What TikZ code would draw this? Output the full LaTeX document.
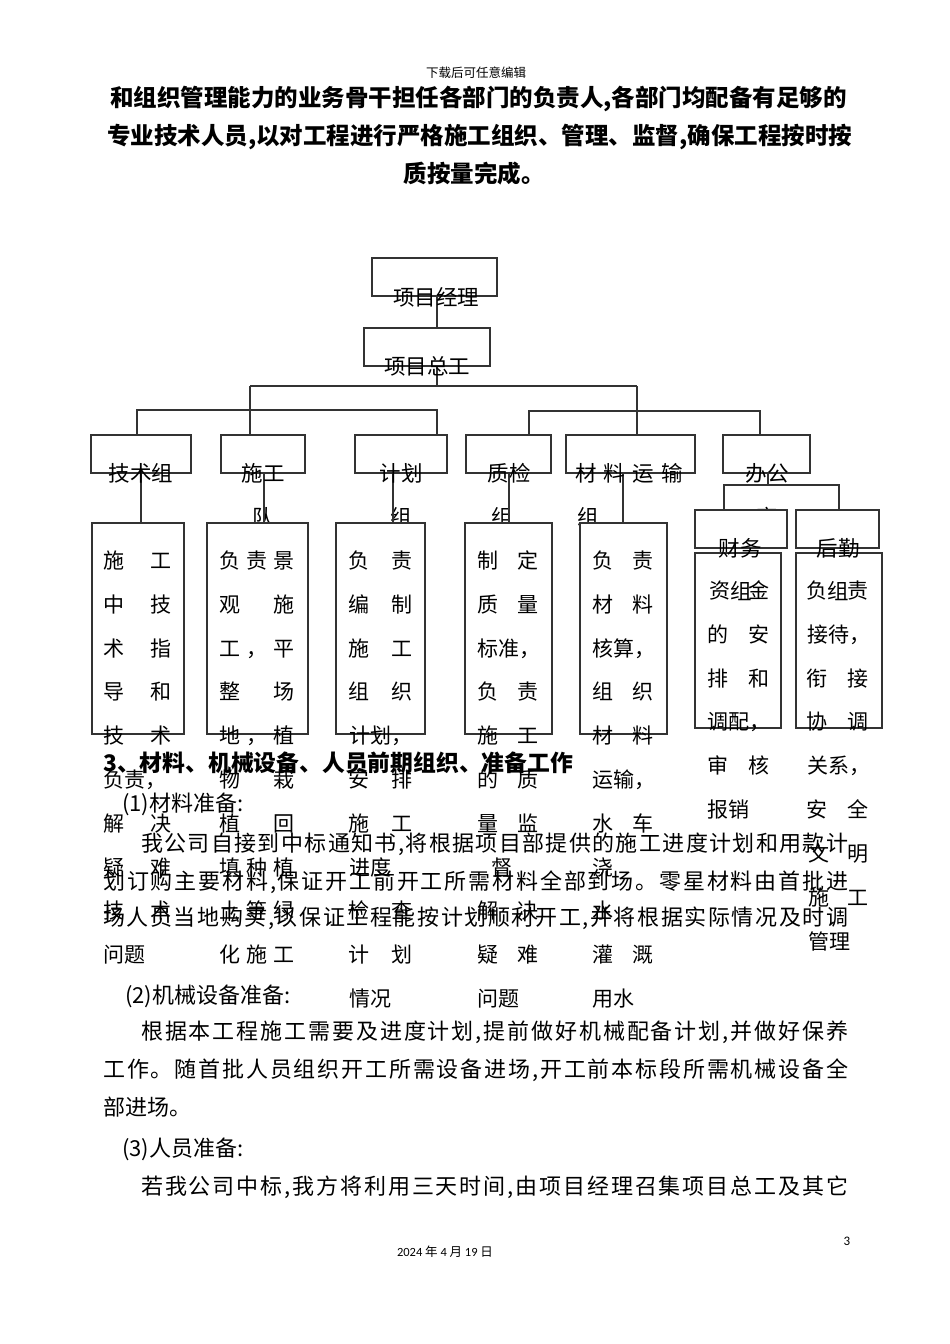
\documentclass[tikz,border=0pt]{standalone}
\usepackage{fontspec}
\newfontfamily\cjk{Noto Sans CJK SC}
\newfontfamily\carl{Carlito}
\makeatletter
\def\spr@loop#1#2{#1\ifx\relax#2\else\hskip 0pt plus 1fil\relax\expandafter\spr@loop\expandafter#2\fi}
\newcommand\spreadto[2]{\makebox[#1][s]{\spr@loop#2\relax}}
\makeatother
\newcommand\Bx[5]{\node[bx, anchor=north west, minimum width={(#4-#2)*1pt}, minimum height={(#5-#3)*1pt}] (#1) at (#2,#3) {};}
\newcommand\Sp[5]{\node[ds] at (#1,#3) {#4}; \node[ds] at (#2,#3) {#5};}
\newcommand\Tr[4]{\node[ds] at (230,#1) {#2}; \node[ds] at (257,#1) {#3}; \node[ds] at (284,#1) {#4};}
\newcommand\Ct[3]{\node[ds, anchor=west] at (#1,#2) {#3};}
\begin{document}
\begin{tikzpicture}[x=1pt,y=-1pt,
  bx/.style={draw=black!80, line width=1.2pt, fill=white, inner sep=0pt, outer sep=0pt},
  ln/.style={draw=black!80, line width=1.2pt},
  lab/.style={inner sep=0pt, font=\cjk\fontsize{21.5}{21.5}\selectfont, text height=17.8pt, text depth=1.5pt},
  ds/.style={inner sep=0pt, font=\cjk\fontsize{21}{21}\selectfont, text height=17.4pt, text depth=1.5pt},
  bd/.style={inner sep=0pt, font=\cjk\fontsize{22}{22}\selectfont, text height=18.3pt, text depth=1.5pt, anchor=west},
  bb/.style={inner sep=0pt, font=\cjk\bfseries\fontsize{23.5}{23.5}\selectfont, text height=19.5pt, text depth=1.6pt, anchor=west},
  sm/.style={inner sep=0pt, font=\cjk\fontsize{12.5}{12.5}\selectfont, text height=10.4pt, text depth=0.9pt}]
\useasboundingbox[fill=white] (0,0) rectangle (950,1344);

% header
\node[sm] (hdr) at (476,73) {下载后可任意编辑};
\node[bb] (b1) at (110,98) {\spreadto{730pt}{和组织管理能力的业务骨干担任各部门的负责人,各部门均配备有足够的}};
\node[bb] (b2) at (107,136) {\spreadto{738pt}{专业技术人员,以对工程进行严格施工组织、管理、监督,确保工程按时按}};
\node[bb, anchor=center] (b3) at (474,174) {质按量完成。};

% top boxes
\Bx{pm}{372}{258}{497}{296}
\Bx{ce}{364}{328}{490}{366}
% row 1 boxes
\Bx{g1}{91}{435}{191}{473}
\Bx{g2}{221}{435}{305}{473}
\Bx{g3}{355}{435}{447}{473}
\Bx{g4}{466}{435}{551}{473}
\Bx{g5}{566}{435}{695}{473}
\Bx{g6}{723}{435}{810}{473}

% junctions
\coordinate (jA) at (437,386);
\coordinate (jB) at (250,386);
\coordinate (jC) at (637,386);
\coordinate (jD) at (137,410);
\coordinate (jE) at (437,410);
\coordinate (jF) at (529,411);
\coordinate (jG) at (760,411);
\coordinate (jH) at (768,485);
\coordinate (jI) at (724,485);
\coordinate (jJ) at (839,485);
\coordinate (k1) at (141,0);
\coordinate (k2) at (264,0);
\coordinate (k3) at (393,0);
\coordinate (k4) at (509,0);
\coordinate (k5) at (623,0);

\draw[ln] (pm.south -| jA) -- (ce.north -| jA);
\draw[ln] (ce.south -| jA) -- (jA);
\draw[ln] (jB) -- (jC);
\draw[ln] (jB) -- (g2.north -| jB);
\draw[ln] (jC) -- (g5.north -| jC);
\draw[ln] (g1.north -| jD) -- (jD) -- (jE) -- (g3.north -| jE);
\draw[ln] (g4.north -| jF) -- (jF) -- (jG) -- (g6.north -| jG);

% second lines of row-1 labels (partly hidden by boxes below)
\node[lab] (g2b) at (263,517) {队};
\node[lab] (g3b) at (401,517) {组};
\node[lab] (g4b) at (502,517) {组};
\node[lab] (g5b) at (588,517) {组};
\node[lab] (g6b) at (767,517) {室};

% description boxes
\Bx{d1}{92}{523}{184}{734}
\Bx{d2}{207}{523}{308}{734}
\Bx{d3}{336}{523}{425}{734}
\Bx{d4}{465}{523}{552}{734}
\Bx{d5}{580}{523}{667}{734}
\Bx{f}{695}{510}{787}{548}
\Bx{h}{796}{510}{879}{548}
\Bx{df}{695}{553}{781}{728}
\Bx{dh}{796}{553}{882}{728}

\draw[ln] (g1.south -| k1) -- (d1.north -| k1);
\draw[ln] (g2.south -| k2) -- (d2.north -| k2);
\draw[ln] (g3.south -| k3) -- (d3.north -| k3);
\draw[ln] (g4.south -| k4) -- (d4.north -| k4);
\draw[ln] (g5.south -| k5) -- (d5.north -| k5);
\draw[ln] (g6.south -| jH) -- (jH);
\draw[ln] (f.north -| jI) -- (jI) -- (jJ) -- (h.north -| jJ);

% labels
\node[lab] (tpm) at (436,297) {项目经理};
\node[lab] (tce) at (427,366) {项目总工};
\node[lab] (tg1) at (141,473) {技术组};
\node[lab] (tg2) at (263,473) {施工};
\node[lab] (tg3) at (401,473) {计划};
\node[lab] (tg4) at (509,473) {质检};
\node[lab] (tg5a) at (586,473) {材};
\node[lab] (tg5b) at (614.5,473) {料};
\node[lab] (tg5c) at (643,473) {运};
\node[lab] (tg5d) at (672,473) {输};
\node[lab] (tg6) at (767,473) {办公};
\node[lab] (tf) at (740,548) {财务};
\node[lab] (th) at (838,548) {后勤};
\node[lab] (tf2) at (741,591) {组};
\node[lab] (th2) at (838,591) {组};

% d1
\Sp{114}{161}{561}{施}{工}
\Sp{114}{161}{605}{中}{技}
\Sp{114}{161}{649}{术}{指}
\Sp{114}{161}{692}{导}{和}
\Sp{114}{161}{736}{技}{术}
\Ct{103}{780}{负责，}
\Sp{114}{161}{824}{解}{决}
\Sp{114}{161}{868}{疑}{难}
\Sp{114}{161}{911}{技}{术}
\Ct{103}{955}{问题}
% d2
\Tr{561}{负}{责}{景}
\Sp{230}{284}{605}{观}{施}
\Tr{649}{工}{，}{平}
\Sp{230}{284}{692}{整}{场}
\Tr{736}{地}{，}{植}
\Sp{230}{284}{780}{物}{栽}
\Sp{230}{284}{824}{植}{回}
\Tr{868}{填}{种}{植}
\Tr{911}{土}{等}{绿}
\Tr{955}{化}{施}{工}
% d3
\Sp{359}{402}{561}{负}{责}
\Sp{359}{402}{605}{编}{制}
\Sp{359}{402}{649}{施}{工}
\Sp{359}{402}{692}{组}{织}
\Ct{349}{736}{计划，}
\Sp{359}{402}{780}{安}{排}
\Sp{359}{402}{824}{施}{工}
\Ct{349}{868}{进度}
\Sp{359}{402}{911}{检}{查}
\Sp{359}{402}{955}{计}{划}
\Ct{349}{999}{情况}
% d4
\Sp{488}{528}{561}{制}{定}
\Sp{488}{528}{605}{质}{量}
\Ct{477}{649}{标准，}
\Sp{488}{528}{692}{负}{责}
\Sp{488}{528}{736}{施}{工}
\Sp{488}{528}{780}{的}{质}
\Sp{488}{528}{824}{量}{监}
\node[ds] (d4x) at (502,868) {督};
\Sp{488}{528}{911}{解}{决}
\Sp{488}{528}{955}{疑}{难}
\Ct{477}{999}{问题}
% d5
\Sp{603}{643}{561}{负}{责}
\Sp{603}{643}{605}{材}{料}
\Ct{592}{649}{核算，}
\Sp{603}{643}{692}{组}{织}
\Sp{603}{643}{736}{材}{料}
\Ct{592}{780}{运输，}
\Sp{603}{643}{824}{水}{车}
\node[ds] (d5x) at (603,868) {浇};
\node[ds] (d5y) at (603,911) {水};
\Sp{603}{643}{955}{灌}{溉}
\Ct{592}{999}{用水}
% df
\Sp{720}{759}{591}{资}{金}
\Sp{718}{759}{635}{的}{安}
\Sp{718}{759}{679}{排}{和}
\Ct{707}{722}{调配，}
\Sp{718}{759}{766}{审}{核}
\Ct{707}{810}{报销}
% dh
\Sp{817}{858}{591}{负}{责}
\Ct{807}{635}{接待，}
\Sp{817}{858}{679}{衔}{接}
\Sp{817}{858}{722}{协}{调}
\Ct{807}{766}{关系，}
\Sp{817}{858}{810}{安}{全}
\Sp{819}{858}{854}{文}{明}
\Sp{819}{858}{898}{施}{工}
\Ct{808}{942}{管理}

% body
\node[bb, font=\cjk\bfseries\fontsize{22.8}{22.8}\selectfont] (sec) at (103,763) {3、材料、机械设备、人员前期组织、准备工作};
\node[bd] (p1) at (122,803) {(1)材料准备:};
\node[bd] (l1) at (141,843) {\spreadto{707pt}{我公司自接到中标通知书,将根据项目部提供的施工进度计划和用款计}};
\node[bd] (l2) at (103,881) {\spreadto{745pt}{划订购主要材料,保证开工前开工所需材料全部到场。零星材料由首批进}};
\node[bd] (l3) at (103,917) {\spreadto{745pt}{场人员当地购买,以保证工程能按计划顺利开工,并将根据实际情况及时调}};
\node[bd] (p2) at (125,995) {(2)机械设备准备:};
\node[bd] (l4) at (141,1031) {\spreadto{707pt}{根据本工程施工需要及进度计划,提前做好机械配备计划,并做好保养}};
\node[bd] (l5) at (103,1069) {\spreadto{745pt}{工作。随首批人员组织开工所需设备进场,开工前本标段所需机械设备全}};
\node[bd] (l6) at (103,1107) {部进场。};
\node[bd] (p3) at (122,1148) {(3)人员准备:};
\node[bd] (l7) at (141,1186) {\spreadto{707pt}{若我公司中标,我方将利用三天时间,由项目经理召集项目总工及其它}};

% footer
\node[sm, font=\carl\fontsize{13}{13}\selectfont] (pg) at (847,1241) {3};
\node[sm, font=\fontsize{12.5}{12.5}\selectfont] (dt) at (445,1252) {\carl 2024 \cjk 年 \carl 4 \cjk 月 \carl 19 \cjk 日};
\end{tikzpicture}
\end{document}
